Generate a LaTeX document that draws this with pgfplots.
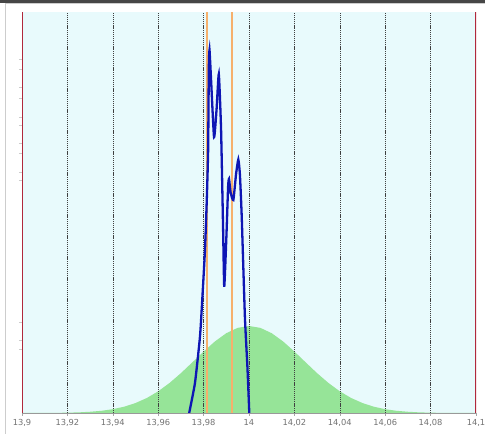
\documentclass[border=0pt]{standalone}
\usepackage{fontspec}
\setmainfont{DejaVu Sans}
\usepackage{pgfplots}
\pgfplotsset{compat=1.18}

\definecolor{panelbg}{RGB}{232,250,252}
\definecolor{normfill}{RGB}{150,228,152}
\definecolor{kdeblue}{RGB}{14,22,180}
\definecolor{limitred}{RGB}{176,40,60}
\definecolor{markorange}{RGB}{246,176,108}
\definecolor{framegray}{RGB}{205,205,205}
\definecolor{topbar}{RGB}{70,70,70}

\begin{document}
\begin{tikzpicture}[x=1pt,y=1pt]
% window frame around the chart
\path[use as bounding box] (-22,-21) rectangle (463,413);
\fill[white] (-22,-21) rectangle (463,413);
\fill[topbar] (-22,410.3) rectangle (463,413);
\draw[framegray, line width=1pt] (-16,-21) -- (-16,409) -- (463,409);

\begin{axis}[
  at={(0,0)}, anchor=origin,
  scale only axis,
  width=454pt, height=401pt,
  xmin=13.9, xmax=14.1, ymin=0, ymax=1,
  axis background/.style={fill=panelbg},
  axis x line*=bottom, axis y line*=left,
  x axis line style={draw=gray!80, line width=0.6pt},
  y axis line style={draw=none},
  xtick={13.9,13.92,...,14.1},
  minor x tick num=3,
  tick align=outside,
  major tick length=3pt, minor tick length=1.5pt,
  every tick/.style={gray!70, line width=0.5pt},
  ytick={0.883,0.858,0.813,0.785,0.738,0.718,0.673,0.648,0.601,0.581,0.227,0.182,0.160},
  yticklabels={},
  ytick style={gray!40, line width=0.5pt},
  /pgf/number format/use comma,
  /pgf/number format/assume math mode=true,
  xticklabel style={font=\fontsize{8.3}{9}\selectfont, text=black!55},
  clip=true,
]
% fitted normal density
\addplot[draw=none, fill=normfill] coordinates {
(13.900,0.0000)(13.905,0.0001)(13.910,0.0002)(13.915,0.0004)(13.920,0.0008)
(13.925,0.0016)(13.930,0.0031)(13.935,0.0055)(13.940,0.0095)(13.945,0.0157)
(13.950,0.0248)(13.955,0.0374)(13.960,0.0541)(13.965,0.0749)(13.970,0.0993)
(13.975,0.1261)(13.980,0.1533)(13.985,0.1785)(13.990,0.1990)(13.995,0.2123)
(14.000,0.2170)(14.005,0.2123)(14.010,0.1990)(14.015,0.1785)(14.020,0.1533)
(14.025,0.1261)(14.030,0.0993)(14.035,0.0749)(14.040,0.0541)(14.045,0.0374)
(14.050,0.0248)(14.055,0.0157)(14.060,0.0095)(14.065,0.0055)(14.070,0.0031)
(14.075,0.0016)(14.080,0.0008)(14.085,0.0004)(14.090,0.0002)(14.095,0.0001)
(14.100,0.0000)} \closedcycle;

% vertical grid lines
\pgfplotsinvokeforeach{13.92,13.94,13.96,13.98,14.00,14.02,14.04,14.06,14.08}{
  \addplot[black!75, dash pattern=on 1.2pt off 0.9pt, line width=0.6pt]
    coordinates {(#1,0) (#1,1)};
}

% specification limits
\addplot[limitred, line width=1.3pt] coordinates {(13.9,0) (13.9,1)};
\addplot[limitred, line width=1.3pt] coordinates {(14.1,0) (14.1,1)};

% markers
\addplot[markorange, line width=2pt] coordinates {(13.9813,0) (13.9813,1)};
\addplot[markorange, line width=2pt] coordinates {(13.9924,0) (13.9924,1)};

% kernel density of the measurements
\addplot[kdeblue, line width=2.3pt, smooth, tension=0.3] coordinates {
(13.9733,-0.010)(13.9762,0.075)(13.9784,0.190)(13.9794,0.282)(13.9806,0.406)
(13.9814,0.531)(13.9820,0.656)(13.9823,0.860)(13.9826,0.905)(13.9833,0.830)
(13.9846,0.688)(13.9857,0.756)(13.9867,0.845)(13.9877,0.706)(13.9886,0.456)
(13.9891,0.315)(13.9901,0.449)(13.9908,0.565)(13.9912,0.584)(13.9919,0.550)
(13.9931,0.531)(13.9943,0.596)(13.9953,0.632)(13.9960,0.594)(13.9968,0.489)
(13.9982,0.239)(13.9993,0.115)(14.0002,-0.010)};
\end{axis}
\end{tikzpicture}
\end{document}
